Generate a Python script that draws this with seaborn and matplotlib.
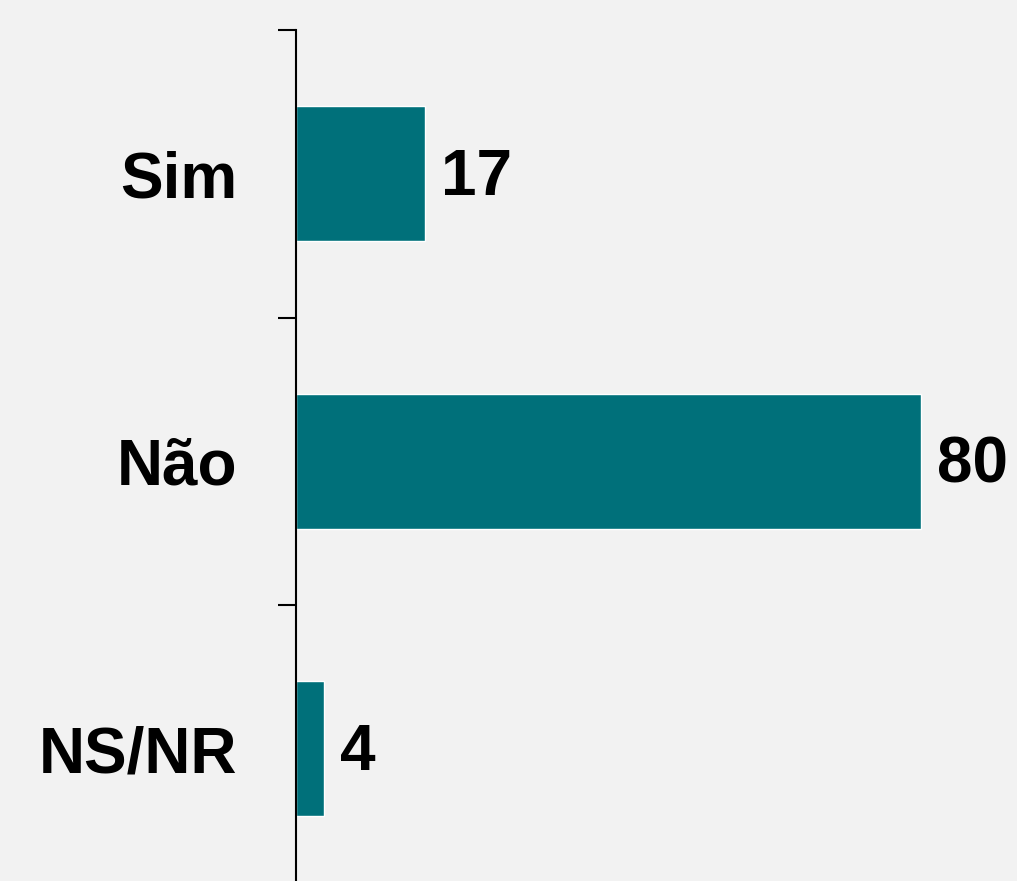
import matplotlib
matplotlib.use("Agg")
import matplotlib.pyplot as plt
import seaborn as sns
import pandas as pd

categories = ["Sim", "Não", "NS/NR"]
values = [16.5, 80.0, 3.6]
value_labels = ["17", "80", "4"]

df = pd.DataFrame({"resposta": categories, "pct": values})

sns.set_style("white")
plt.rcParams["font.family"] = ["Liberation Sans", "DejaVu Sans"]

bg = "#f2f2f2"
fig = plt.figure(figsize=(10.17, 8.81), dpi=100, facecolor=bg)
ax = fig.add_axes([296 / 1017, 0, 1 - 296 / 1017, 1 - 30 / 881])
ax.set_facecolor(bg)

sns.barplot(data=df, x="pct", y="resposta", color="#00707a", width=0.47,
            saturation=1, ax=ax)

# rótulos de valor
for i, (v, lab) in enumerate(zip(values, value_labels)):
    ax.text(v + 2.0, i + 0.014, lab, va="center", ha="left", fontsize=46,
            fontweight="bold", color="black")

for s in ["top", "right", "bottom"]:
    ax.spines[s].set_visible(False)
ax.spines["left"].set_linewidth(1.5)
ax.spines["left"].set_color("black")

ax.set_xticks([])
ax.set_xlabel("")
ax.set_ylabel("")
ax.set_yticks(range(len(categories)))
ax.set_yticklabels(categories, fontsize=46, fontweight="bold", color="black")
ax.tick_params(axis="y", which="major", length=0, pad=42)
ax.set_yticks([-0.5, 0.5, 1.5, 2.5], minor=True)
ax.tick_params(axis="y", which="minor", length=13, width=1.5, color="black", left=True)

ax.set_xlim(0, (1017 - 296) / 7.8125)
ax.set_ylim(-0.5 + 851 / 287.5, -0.5)

fig.savefig("out.png", dpi=100, facecolor=bg)
